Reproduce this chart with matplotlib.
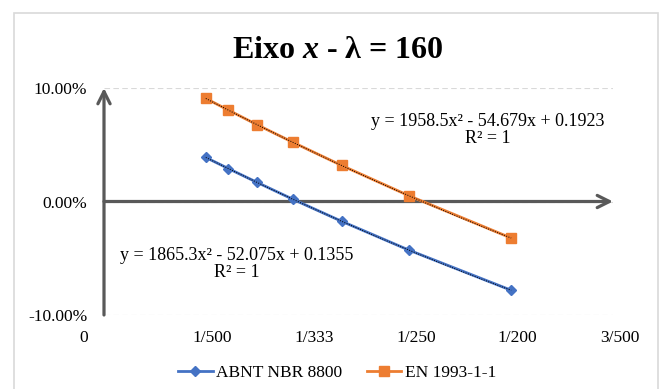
import numpy as np
import matplotlib
matplotlib.use("Agg")
import matplotlib.pyplot as plt
from matplotlib.patches import Rectangle
from matplotlib.transforms import ScaledTranslation

plt.rcParams['font.family'] = ['Liberation Serif', 'DejaVu Serif']
plt.rcParams['mathtext.fontset'] = 'custom'
plt.rcParams['mathtext.rm'] = 'Liberation Serif:bold'
plt.rcParams['mathtext.it'] = 'Liberation Serif:bold:italic'

# deslocamento relativo (L/500 ... L/200) e diferenca
x_vals = [1/500, 1/450, 1/400, 1/350, 1/300, 1/250, 1/200]
abnt = [0.0388, 0.0290, 0.0170, 0.0019, -0.0174, -0.0430, -0.0782]
en = [0.0908, 0.0805, 0.0678, 0.0521, 0.0318, 0.0049, -0.0322]

x_ticks = [0.001, 0.002, 0.003, 0.004, 0.005, 0.006]
x_ticklabels = ['0', '1/500', '1/333', '1/250', '1/200', '3/500']
y_ticks = [-0.1, 0.0, 0.1]
y_ticklabels = ['-10.00%', '0.00%', '10.00%']

eq_abnt = 'y = 1865.3x² - 52.075x + 0.1355\nR² = 1'
eq_en = 'y = 1958.5x² - 54.679x + 0.1923\nR² = 1'

W, H = 662, 389
fig = plt.figure(figsize=(W/100, H/100), dpi=100)
ax = fig.add_axes([104/W, 1-315/H, 509/W, 227/H])

# moldura do grafico
fig.patches.append(Rectangle((14/W, -0.1), 644/W, 1.1 - 13/H, transform=fig.transFigure,
                             fill=False, edgecolor='#D9D9D9', lw=1.2))

azul = '#4472C4'
laranja = '#ED7D31'

ax.plot(x_vals, abnt, '-D', color=azul, lw=2.0, ms=5, label='ABNT NBR 8800', zorder=3)
ax.plot(x_vals, en, '-s', color=laranja, lw=2.0, ms=7, label='EN 1993-1-1', zorder=3)

# linhas de tendencia polinomiais (ordem 2)
xx = np.linspace(min(x_vals), max(x_vals), 100)
for serie in (abnt, en):
    c = np.polyfit(x_vals, serie, 2)
    ax.plot(xx, np.polyval(c, xx), color='black', lw=0.7, ls=(0, (1, 1.5)), zorder=4)

ax.set_xlim(0.001, 0.006)
ax.set_ylim(-0.1, 0.1)
ax.set_xticks(x_ticks)
ax.set_xticklabels(x_ticklabels, fontsize=12.5)
ax.set_yticks(y_ticks)
ax.set_yticklabels(y_ticklabels, fontsize=12.5)
ax.tick_params(length=0)
ax.tick_params(axis='x', pad=11)
ax.tick_params(axis='y', pad=12)
ax.grid(axis='y', color='#D9D9D9', ls=(0, (5, 3)), lw=0.8)
for s in ax.spines.values():
    s.set_visible(False)

# deslocamento dos rotulos como no excel
offs = [-20, 6, 7, 7, 6, 7]
for lab, dx in zip(ax.get_xticklabels(), offs):
    lab.set_transform(lab.get_transform() + ScaledTranslation(dx/100, 0, fig.dpi_scale_trans))

# eixos com seta
seta = dict(arrowstyle='->', lw=2.3, color='#595959', mutation_scale=22, shrinkA=0, shrinkB=0)
ax.annotate('', xy=(0.001, 0.1), xytext=(0.001, -0.1), arrowprops=seta, zorder=2, annotation_clip=False)
ax.annotate('', xy=(0.006, 0), xytext=(0.001, 0), arrowprops=seta, zorder=2, annotation_clip=False)

ax.text(0.00477, 0.063, eq_en, ha='center', va='center', fontsize=13, linespacing=1.05)
ax.text(0.0023, -0.055, eq_abnt, ha='center', va='center', fontsize=13, linespacing=1.05)

fig.text(338/W, 1-50/H, r'Eixo $x$ - λ = 160', ha='center', va='center',
         fontsize=23, fontweight='bold')

fig.legend(loc='center', bbox_to_anchor=(337/W, 1-373/H), ncol=2, frameon=False,
           fontsize=12.5, handlelength=2.0, columnspacing=1.4, handletextpad=0.2)

fig.savefig('out.png', dpi=100)
